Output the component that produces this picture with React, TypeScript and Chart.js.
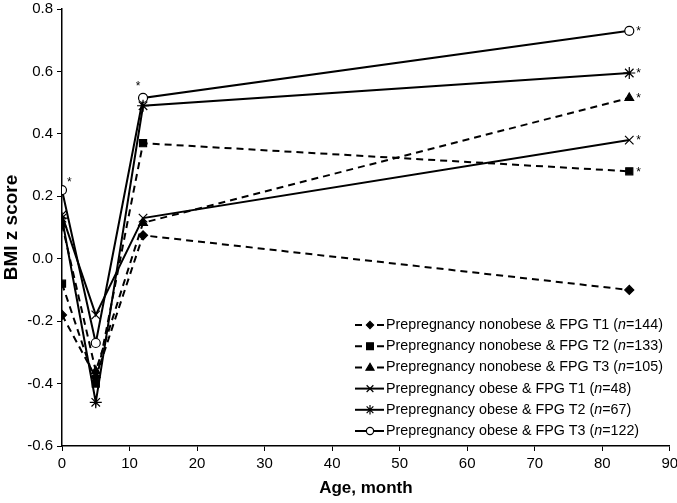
import React, { useEffect, useRef } from "react";
import { Chart, registerables } from "chart.js";

Chart.register(...registerables);

const months = [0, 5, 12, 84];
const xTicks = [0, 10, 20, 30, 40, 50, 60, 70, 80, 90];

const seriesLabels = [
  "Prepregnancy nonobese & FPG T1",
  "Prepregnancy nonobese & FPG T2",
  "Prepregnancy nonobese & FPG T3",
  "Prepregnancy obese & FPG T1",
  "Prepregnancy obese & FPG T2",
  "Prepregnancy obese & FPG T3",
];
const seriesN = [144, 133, 105, 48, 67, 122];

const nonobeseT1 = [-0.18, -0.38, 0.075, -0.1];
const nonobeseT2 = [-0.08, -0.4, 0.37, 0.28];
const nonobeseT3 = [0.11, -0.36, 0.115, 0.515];
const obeseT1 = [0.14, -0.18, 0.13, 0.38];
const obeseT2 = [0.13, -0.46, 0.49, 0.595];
const obeseT3 = [0.22, -0.27, 0.515, 0.73];

// significance flags (asterisk) per point
const sigNonobeseT1 = [false, false, false, false];
const sigNonobeseT2 = [false, false, false, true];
const sigNonobeseT3 = [false, false, false, true];
const sigObeseT1 = [false, false, false, true];
const sigObeseT2 = [false, false, false, true];
const sigObeseT3 = [true, false, true, true];

const allValues = [nonobeseT1, nonobeseT2, nonobeseT3, obeseT1, obeseT2, obeseT3];
const allSig = [sigNonobeseT1, sigNonobeseT2, sigNonobeseT3, sigObeseT1, sigObeseT2, sigObeseT3];

const styles = [
  { dash: [7, 5], point: "rectRot", radius: 4.5, fill: "#000" },
  { dash: [7, 5], point: "rect", radius: 5, fill: "#000" },
  { dash: [7, 5], point: "triangle", radius: 5, fill: "#000" },
  { dash: [], point: "crossRot", radius: 6, fill: "#000" },
  { dash: [], point: "star", radius: 6, fill: "#000" },
  { dash: [], point: "circle", radius: 4.5, fill: "#fff" },
];

const FONT = "'Liberation Sans', Arial, sans-serif";

function drawMarker(ctx: CanvasRenderingContext2D, kind: string, x: number, y: number, r: number, fill: string) {
  ctx.save();
  ctx.setLineDash([]);
  ctx.strokeStyle = "#000";
  ctx.fillStyle = fill;
  ctx.lineWidth = 1.2;
  ctx.beginPath();
  if (kind === "rectRot") {
    ctx.moveTo(x, y - r);
    ctx.lineTo(x + r, y);
    ctx.lineTo(x, y + r);
    ctx.lineTo(x - r, y);
    ctx.closePath();
    ctx.fill();
    ctx.stroke();
  } else if (kind === "rect") {
    const s = r * 0.85;
    ctx.rect(x - s, y - s, 2 * s, 2 * s);
    ctx.fill();
    ctx.stroke();
  } else if (kind === "triangle") {
    ctx.moveTo(x, y - r);
    ctx.lineTo(x + r, y + r * 0.7);
    ctx.lineTo(x - r, y + r * 0.7);
    ctx.closePath();
    ctx.fill();
    ctx.stroke();
  } else if (kind === "crossRot") {
    const s = r * 0.7;
    ctx.moveTo(x - s, y - s);
    ctx.lineTo(x + s, y + s);
    ctx.moveTo(x + s, y - s);
    ctx.lineTo(x - s, y + s);
    ctx.stroke();
  } else if (kind === "star") {
    const s = r * 0.7;
    ctx.moveTo(x - s, y - s);
    ctx.lineTo(x + s, y + s);
    ctx.moveTo(x + s, y - s);
    ctx.lineTo(x - s, y + s);
    ctx.moveTo(x, y - r);
    ctx.lineTo(x, y + r);
    ctx.stroke();
  } else {
    ctx.arc(x, y, r, 0, Math.PI * 2);
    ctx.fill();
    ctx.stroke();
  }
  ctx.restore();
}

export default function App() {
  const ref = useRef<HTMLCanvasElement | null>(null);

  useEffect(() => {
    document.body.style.margin = "0";
    const canvas = ref.current;
    if (!canvas) return;

    const datasets = allValues.map((vals, i) => ({
      label: seriesLabels[i],
      data: months.map((m, j) => ({ x: m, y: vals[j] })),
      borderColor: "#000",
      borderWidth: 2,
      borderDash: styles[i].dash,
      pointStyle: styles[i].point as any,
      pointRadius: styles[i].radius,
      pointBackgroundColor: styles[i].fill,
      pointBorderColor: "#000",
      pointBorderWidth: 1.2,
      tension: 0,
      fill: false,
    }));

    const overlay = {
      id: "overlay",
      afterDatasetsDraw(chart: any) {
        const ctx = chart.ctx as CanvasRenderingContext2D;
        ctx.save();
        ctx.fillStyle = "#000";
        ctx.font = `12px ${FONT}`;
        ctx.textBaseline = "middle";
        allSig.forEach((flags, di) => {
          const meta = chart.getDatasetMeta(di);
          flags.forEach((f, j) => {
            if (!f) return;
            const pt = meta.data[j];
            if (months[j] === 84) {
              ctx.textAlign = "left";
              ctx.fillText("*", pt.x + 7, pt.y + 1);
            } else if (months[j] === 0) {
              ctx.textAlign = "left";
              ctx.fillText("*", pt.x + 5, pt.y - 7);
            } else {
              ctx.textAlign = "center";
              ctx.fillText("*", pt.x - 5, pt.y - 11);
            }
          });
        });
        const ly0 = 325;
        const dy = 21.2;
        for (let i = 0; i < seriesLabels.length; i++) {
          const y = ly0 + i * dy;
          ctx.strokeStyle = "#000";
          ctx.lineWidth = 2;
          ctx.setLineDash([]);
          ctx.beginPath();
          if (i < 3) {
            ctx.moveTo(355, y);
            ctx.lineTo(362, y);
            ctx.moveTo(377, y);
            ctx.lineTo(384, y);
          } else {
            ctx.moveTo(355, y);
            ctx.lineTo(384, y);
          }
          ctx.stroke();
          const st = styles[i];
          drawMarker(ctx, st.point, 370, y, st.radius * 0.8, st.fill);
          ctx.fillStyle = "#000";
          ctx.textAlign = "left";
          ctx.textBaseline = "middle";
          ctx.font = `14.3px ${FONT}`;
          let x = 386;
          const t1 = seriesLabels[i] + " (";
          ctx.fillText(t1, x, y);
          x += ctx.measureText(t1).width;
          ctx.font = `italic 14.3px ${FONT}`;
          ctx.fillText("n", x, y);
          x += ctx.measureText("n").width;
          ctx.font = `14.3px ${FONT}`;
          ctx.fillText("=" + seriesN[i] + ")", x, y);
        }
        ctx.restore();
      },
    };

    const chart = new Chart(canvas, {
      type: "line",
      data: { datasets: datasets as any },
      options: {
        animation: false,
        responsive: false,
        maintainAspectRatio: false,
        layout: { padding: { top: 0, right: 0, left: 0, bottom: 0 } },
        plugins: {
          legend: { display: false },
          tooltip: { enabled: false },
        },
        scales: {
          x: {
            type: "linear",
            min: 0,
            max: 90,
            afterBuildTicks: (s: any) => {
              s.ticks = xTicks.map((v) => ({ value: v }));
            },
            grid: {
              display: true,
              drawOnChartArea: false,
              drawTicks: true,
              tickLength: 5,
              color: "#000",
            },
            border: { display: true, color: "#000", width: 1.5 },
            ticks: {
              color: "#000",
              font: { family: FONT, size: 15 },
              padding: 4,
              maxRotation: 0,
            },
            title: {
              display: true,
              text: "Age, month",
              color: "#000",
              font: { family: FONT, size: 17, weight: "bold" },
              padding: { top: 4, bottom: 4 },
            },
            afterFit: (s: any) => {
              s.height = 57;
              s.paddingRight = 5;
            },
          },
          y: {
            type: "linear",
            min: -0.6,
            max: 0.8,
            ticks: {
              stepSize: 0.2,
              color: "#000",
              font: { family: FONT, size: 15 },
              padding: 4,
              callback: (v: any) => Number(v).toFixed(1),
            },
            grid: {
              display: true,
              drawOnChartArea: false,
              drawTicks: true,
              tickLength: 5,
              color: "#000",
            },
            border: { display: true, color: "#000", width: 1.5 },
            title: {
              display: true,
              text: "BMI z score",
              color: "#000",
              font: { family: FONT, size: 19, weight: "bold" },
              padding: { top: 0, bottom: 2 },
            },
            afterFit: (s: any) => {
              s.width = 62;
              s.paddingTop = 9;
            },
          },
        },
      },
      plugins: [overlay],
    });

    return () => chart.destroy();
  }, []);

  return (
    <div style={{ width: 677, height: 503, background: "#fff" }}>
      <canvas ref={ref} width={677} height={503} style={{ display: "block" }} />
    </div>
  );
}
